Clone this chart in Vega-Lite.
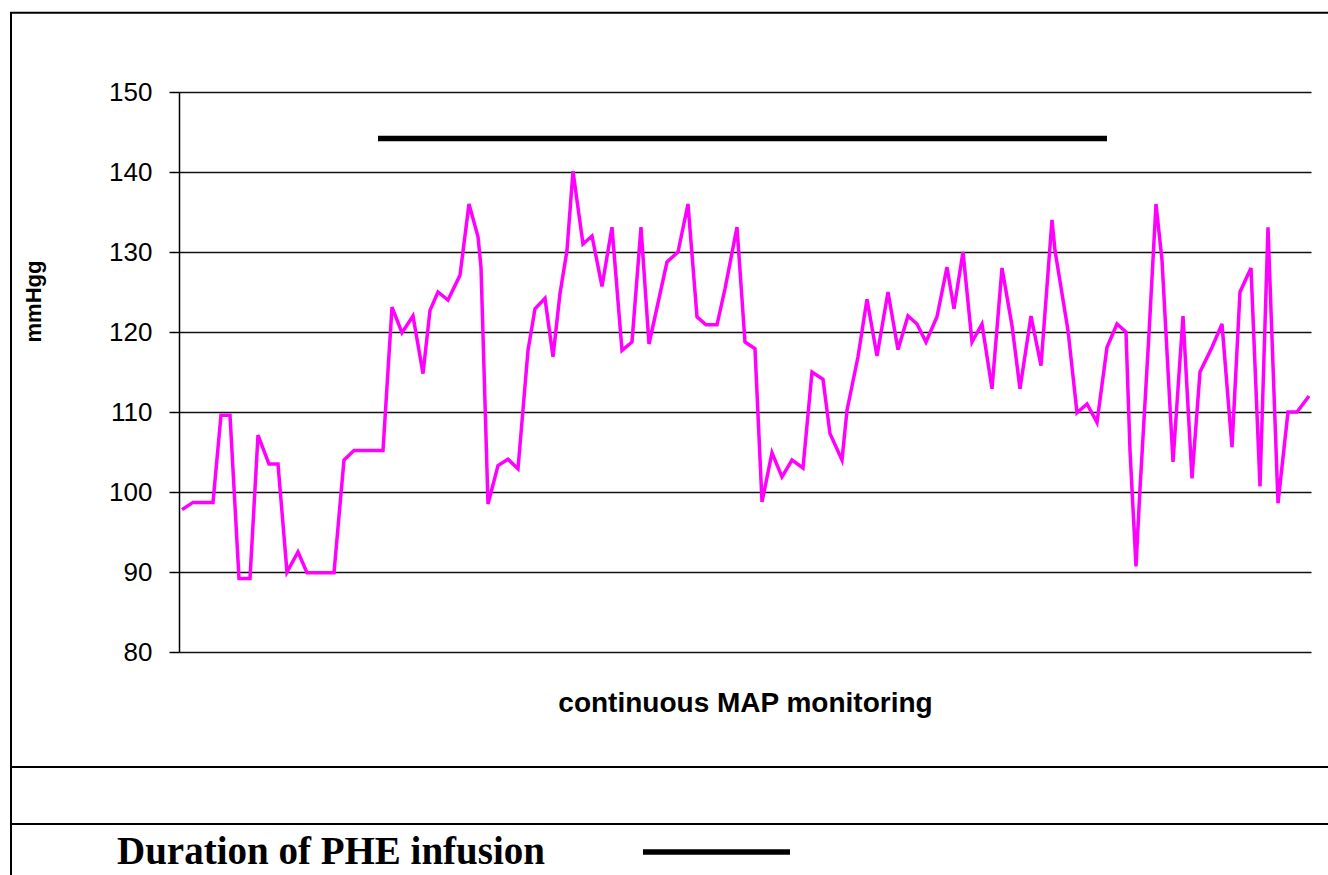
{
  "$schema": "https://vega.github.io/schema/vega-lite/v6.json",
  "width": 1132,
  "height": 560,
  "autosize": {"type": "none"},
  "padding": {"left": 179, "top": 92, "right": 17, "bottom": 223},
  "background": "white",
  "config": {
    "view": {"stroke": null},
    "font": "Liberation Sans"
  },
  "datasets": {
    "map": [
      {"t": 3, "v": 97.8}, {"t": 14, "v": 98.7}, {"t": 34, "v": 98.7}, {"t": 42, "v": 109.6},
      {"t": 51, "v": 109.6}, {"t": 60, "v": 89.2}, {"t": 71, "v": 89.2}, {"t": 79, "v": 107.1},
      {"t": 90, "v": 103.5}, {"t": 99, "v": 103.5}, {"t": 108, "v": 90}, {"t": 119, "v": 92.5},
      {"t": 128, "v": 89.9}, {"t": 155, "v": 89.9}, {"t": 162, "v": 99.8}, {"t": 165, "v": 104},
      {"t": 175, "v": 105.2}, {"t": 204, "v": 105.2}, {"t": 213, "v": 123.1}, {"t": 223, "v": 119.9},
      {"t": 234, "v": 122}, {"t": 244, "v": 114.8}, {"t": 251, "v": 122.7}, {"t": 259, "v": 125},
      {"t": 269, "v": 124}, {"t": 281, "v": 127.1}, {"t": 290, "v": 136}, {"t": 299, "v": 131.9},
      {"t": 302, "v": 128.1}, {"t": 309, "v": 98.5}, {"t": 319, "v": 103.3}, {"t": 329, "v": 104.1},
      {"t": 339, "v": 102.9}, {"t": 349, "v": 117.7}, {"t": 356, "v": 122.9}, {"t": 366, "v": 124.2},
      {"t": 374, "v": 116.9}, {"t": 381, "v": 124.8}, {"t": 388, "v": 130.2}, {"t": 394, "v": 140.1},
      {"t": 404, "v": 131}, {"t": 413, "v": 132}, {"t": 423, "v": 125.7}, {"t": 433, "v": 133.1},
      {"t": 443, "v": 117.7}, {"t": 453, "v": 118.75}, {"t": 462, "v": 133.1}, {"t": 470, "v": 118.5},
      {"t": 488, "v": 128.75}, {"t": 499, "v": 130}, {"t": 509, "v": 136}, {"t": 518, "v": 121.9},
      {"t": 527, "v": 120.9}, {"t": 538, "v": 120.9}, {"t": 546, "v": 125.4}, {"t": 558, "v": 133.1},
      {"t": 566, "v": 118.75}, {"t": 576, "v": 117.9}, {"t": 583, "v": 98.75}, {"t": 593, "v": 104.9},
      {"t": 603, "v": 101.9}, {"t": 613, "v": 104}, {"t": 624, "v": 103}, {"t": 633, "v": 115},
      {"t": 644, "v": 114.1}, {"t": 651, "v": 107.3}, {"t": 663, "v": 104}, {"t": 668, "v": 110.2},
      {"t": 679, "v": 116.9}, {"t": 688, "v": 124.1}, {"t": 698, "v": 117}, {"t": 709, "v": 125},
      {"t": 719, "v": 117.8}, {"t": 729, "v": 122}, {"t": 738, "v": 121}, {"t": 747, "v": 118.75},
      {"t": 758, "v": 121.9}, {"t": 768, "v": 128.1}, {"t": 775, "v": 122.9}, {"t": 784, "v": 130},
      {"t": 793, "v": 118.75}, {"t": 803, "v": 121}, {"t": 813, "v": 112.9}, {"t": 823, "v": 128},
      {"t": 833, "v": 120.8}, {"t": 841, "v": 112.9}, {"t": 852, "v": 122}, {"t": 862, "v": 115.8},
      {"t": 873, "v": 134}, {"t": 876, "v": 130.2}, {"t": 889, "v": 120.2}, {"t": 898, "v": 109.9},
      {"t": 908, "v": 111}, {"t": 918, "v": 108.7}, {"t": 928, "v": 118.1}, {"t": 938, "v": 121},
      {"t": 947, "v": 120}, {"t": 951, "v": 105.2}, {"t": 957, "v": 90.7}, {"t": 961, "v": 100.4},
      {"t": 970, "v": 119.8}, {"t": 977, "v": 136}, {"t": 983, "v": 129}, {"t": 994, "v": 103.75},
      {"t": 1004, "v": 122}, {"t": 1013, "v": 101.7}, {"t": 1021, "v": 115}, {"t": 1033, "v": 118.1},
      {"t": 1043, "v": 121}, {"t": 1053, "v": 105.6}, {"t": 1061, "v": 125}, {"t": 1072, "v": 128},
      {"t": 1081, "v": 100.7}, {"t": 1089, "v": 133.1}, {"t": 1099, "v": 98.6}, {"t": 1109, "v": 110},
      {"t": 1118, "v": 110}, {"t": 1130, "v": 112}
    ],
    "infusion": [
      {"start": 199, "end": 928, "level": 144.2, "label": "Duration of PHE infusion"}
    ],
    "frame": [
      {"x1": -169, "x2": 1160, "y1": 159.9, "y2": 159.9},
      {"x1": -169, "x2": 1160, "y1": 65.625, "y2": 65.625},
      {"x1": -169, "x2": 1160, "y1": 58.5, "y2": 58.5},
      {"x1": -168, "x2": -168, "y1": 159.9, "y2": 45}
    ]
  },
  "layer": [
    {
      "data": {"name": "frame"},
      "mark": {"type": "rule", "color": "black", "strokeWidth": 2},
      "encoding": {
        "x": {"field": "x1", "type": "quantitative", "scale": {"domain": [0, 1132], "nice": false, "zero": false}},
        "x2": {"field": "x2"},
        "y": {"field": "y1", "type": "quantitative", "scale": {"domain": [80, 150], "nice": false, "zero": false}},
        "y2": {"field": "y2"}
      }
    },
    {
      "data": {"name": "map"},
      "mark": {"type": "line", "color": "#FF00FF", "strokeWidth": 3.5, "clip": false},
      "encoding": {
        "x": {
          "field": "t", "type": "quantitative",
          "scale": {"domain": [0, 1132], "nice": false, "zero": false},
          "axis": {
            "title": "continuous MAP monitoring",
            "labels": false, "ticks": false, "domain": false, "grid": false,
            "titleFontSize": 28, "titleFontWeight": "bold", "titleColor": "black",
            "titlePadding": 37
          }
        },
        "y": {
          "field": "v", "type": "quantitative",
          "scale": {"domain": [80, 150], "nice": false, "zero": false},
          "axis": {
            "title": "mmHgg",
            "values": [80, 90, 100, 110, 120, 130, 140, 150],
            "labelFontSize": 26, "labelColor": "black", "labelPadding": 17,
            "tickSize": 10, "tickColor": "black", "tickWidth": 1.5,
            "domainColor": "black", "domainWidth": 1.5,
            "grid": true, "gridColor": "#111", "gridWidth": 1.5, "gridOpacity": 1,
            "titleFontSize": 22, "titleFontWeight": "bold", "titleColor": "black",
            "titlePadding": 63, "titleY": 209
          }
        }
      }
    },
    {
      "data": {"name": "infusion"},
      "mark": {"type": "rule", "strokeWidth": 5.5},
      "encoding": {
        "x": {"field": "start", "type": "quantitative"},
        "x2": {"field": "end"},
        "y": {"field": "level", "type": "quantitative"},
        "color": {
          "field": "label", "type": "nominal",
          "scale": {"range": ["black"]},
          "legend": {
            "orient": "none",
            "legendX": -62,
            "legendY": 745,
            "title": "Duration of PHE infusion",
            "titleOrient": "left",
            "titleAnchor": "middle",
            "titleBaseline": "middle",
            "titleFont": "Liberation Serif",
            "titleFontSize": 39,
            "titleFontWeight": "bold",
            "titleColor": "black",
            "titlePadding": 95,
            "titleLimit": 1000,
            "symbolType": "stroke",
            "symbolSize": 21609,
            "symbolStrokeWidth": 5.5,
            "clipHeight": 30,
            "labelExpr": "''",
            "labelFontSize": 1,
            "padding": 0
          }
        }
      }
    }
  ]
}
